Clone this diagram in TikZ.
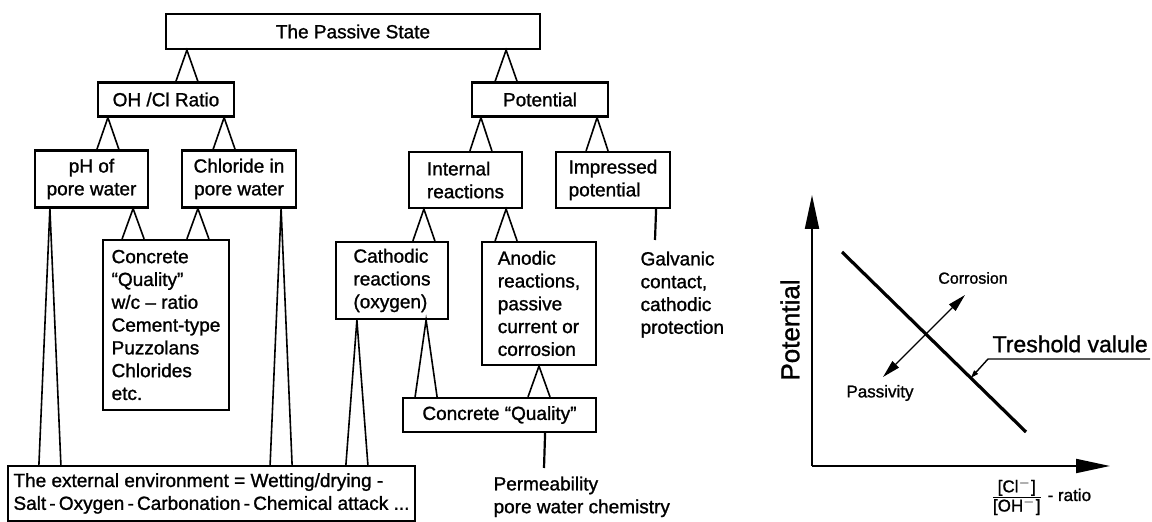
\documentclass[tikz,border=0pt]{standalone}
\usepackage{fontspec}
\setmainfont{Liberation Sans}[FakeBold=1.2]
\usepackage{tikz}
\usetikzlibrary{arrows,arrows.meta}
\usetikzlibrary{calc}
\usetikzlibrary{positioning}

\begin{document}
\begin{tikzpicture}[x=0.5pt,y=-0.5pt,-,semithick,font=\fontsize{9.5}{11.4}\selectfont]
	\tikzstyle{box}=[draw, rectangle, inner sep=0pt, line width=1.1pt, align=left]
	\tikzstyle{wedge}=[line width=0.8pt, line join=miter]
	\tikzstyle{stem}=[line width=1.1pt]
	\tikzstyle{axis}=[line width=1pt, -{Triangle[length=17pt,width=7pt]}]
	\useasboundingbox (0,0) rectangle (1152,522);

		\node[box, minimum width=187pt, minimum height=17.5pt] (passive) at (353,31.5) {The Passive State};
		\node[box, minimum width=68pt, minimum height=17pt]    (ohcl)    at (166,99.5)  {OH /Cl Ratio};
		\node[box, minimum width=68pt, minimum height=17pt]    (pot)     at (540,99.5)  {Potential};
		\node[box, minimum width=56.5pt, minimum height=28.5pt, align=center] (ph)  at (91.5,179) {pH of\\pore water};
		\node[box, minimum width=57pt, minimum height=28.5pt, align=center]   (chl) at (239,179)  {Chloride in\\pore water};
		\node[box, minimum width=56.5pt, minimum height=28pt]  (intr)    at (465.5,180) {Internal\\reactions};
		\node[box, minimum width=57pt, minimum height=28pt]    (imp)     at (613,180)   {Impressed\\potential};
		\node[box, minimum width=63pt, minimum height=85pt]    (cq1)     at (166,325)   {Concrete\\``Quality''\\w/c -- ratio\\Cement-type\\Puzzolans\\Chlorides\\etc.};
		\node[box, minimum width=56pt, minimum height=38.5pt]  (cath)    at (392,280.5) {Cathodic\\reactions\\(oxygen)};
		\node[box, minimum width=57pt, minimum height=61.5pt]  (anod)    at (539,303.5) {Anodic\\reactions,\\passive\\current or\\corrosion};
		\node[box, minimum width=96.5pt, minimum height=17pt]  (cq2)     at (499.5,415) {Concrete ``Quality''};
		\node[box, minimum width=203.5pt, minimum height=27.5pt] (ext)   at (211.5,493.5) {The external environment = Wetting/drying -\\Salt\,-\,Oxygen\,-\,Carbonation\,-\,Chemical attack ...};

		\node[anchor=north west, inner sep=0pt, align=left] (galv) at (640,251) {Galvanic\\contact,\\cathodic\\protection};
		\node[anchor=north west, inner sep=0pt, align=left] (perm) at (493,476) {Permeability\\pore water chemistry};

		\foreach \p/\dx/\c in {passive.south west/22/ohcl, passive.south east/-35/pot,
				ohcl.south west/11/ph, ohcl.south east/-11/chl,
				pot.south west/10/intr, pot.south east/-12/imp,
				ph.south east/-16/cq1, chl.south west/17/cq1,
				ph.south west/16/ext, chl.south east/-16/ext,
				intr.south west/16/cath, intr.south east/-17/anod,
				cath.south east/-23/cq2, cath.south west/22/ext,
				anod.south/0/cq2}{
			\coordinate (apx) at ($(\p)+(\dx,0)$);
			\draw[wedge] ($(apx |- \c.north)+(-11,0)$) -- (apx) -- ($(apx |- \c.north)+(11,0)$);
		}

		\coordinate (gtop) at (655,240);
		\coordinate (ptop) at (544,468);
		\draw[stem] ($(imp.south east)+(-15,0)$) -- (gtop);
		\draw[stem] ($(cq2.south east)+(-52,0)$) -- (ptop);

	\coordinate (o)  at (812,466);
	\coordinate (yt) at (812,195);
	\coordinate (xt) at (1110,466);
	\coordinate (ta) at (842,252);
	\coordinate (tb) at (1026,432);
	\coordinate (pa) at (883,377);
	\coordinate (ca) at (965,295);
	\coordinate (lr) at (1150,359);
	\coordinate (lk) at (988,359);

		\draw[axis] (o) -- (yt);
		\draw[axis] (o) -- (xt);
		\draw[line width=1.6pt] (ta) -- (tb);
		\draw[line width=0.7pt, {Triangle[length=9pt,width=4.5pt]}-{Triangle[length=9pt,width=4.5pt]}] (pa) -- (ca);
		\draw[line width=0.7pt, -{Triangle[length=4pt,width=2.5pt]}] (lr) -- (lk) -- ($(ta)!0.70!(tb)$);

		\node[font=\fontsize{8}{9.6}\selectfont] (corr) at (973,278) {Corrosion};
		\node[font=\fontsize{8.5}{10}\selectfont] (pass) at (880,393) {Passivity};
		\node[anchor=south west, inner sep=0pt, font=\fontsize{11.5}{13.8}\selectfont] (tresh) at (992,353) {Treshold valule};
		\node[rotate=90, font=\fontsize{13}{15.6}\selectfont] (ylab) at (790,330) {Potential};
		\node[anchor=west, inner sep=0pt, font=\fontsize{8.5}{10}\selectfont] (xlab) at (990,497) {$\frac{\mbox{[Cl$^-$]}}{\mbox{[OH$^-$]}}$ - ratio};
\end{tikzpicture}
\end{document}
